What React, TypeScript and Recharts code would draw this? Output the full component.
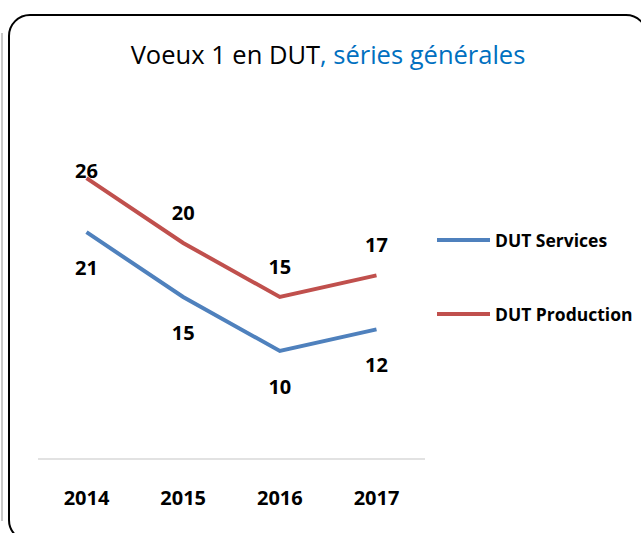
import React from 'react';
import { LineChart, Line, XAxis, YAxis, LabelList } from 'recharts';

const years = ['2014', '2015', '2016', '2017'];
const services = [21, 15, 10, 12];
const production = [26, 20, 15, 17];

const seriesNames = ['DUT Services', 'DUT Production'];
const seriesColors = ['#4F81BD', '#C0504D'];

const data = years.map((year, i) => ({
  year,
  services: services[i],
  production: production[i],
}));

const FONT = '"Open Sans", sans-serif';

const labelAbove = (props: any) => {
  const { x, y, value } = props;
  return (
    <text x={x} y={Math.max(y - 31, 170)} textAnchor="middle" dominantBaseline="central"
      fontFamily={FONT} fontWeight={700} fontSize={20} fill="#000">
      {value}
    </text>
  );
};

const labelBelow = (props: any) => {
  const { x, y, value } = props;
  return (
    <text x={x} y={y + 35} textAnchor="middle" dominantBaseline="central"
      fontFamily={FONT} fontWeight={700} fontSize={20} fill="#000">
      {value}
    </text>
  );
};

export default function App() {
  return (
    <div style={{ position: 'absolute', left: 0, top: 0, width: 641, height: 533, overflow: 'hidden', background: '#fff' }}>
      <div style={{ position: 'absolute', left: 1, top: 33, width: 2, height: 488, background: '#c8c8c8' }} />
      <div style={{ position: 'absolute', left: 8, top: 14, width: 640, height: 528, border: '2px solid #000', borderRadius: 22, boxSizing: 'border-box' }} />
      <div style={{ position: 'absolute', left: 0, top: 37, width: 656, textAlign: 'center', fontFamily: FONT, fontSize: 25.5, color: '#000', whiteSpace: 'nowrap' }}>
        Voeux 1 en DUT<span style={{ color: '#0070C0' }}>, séries générales</span>
      </div>
      <div style={{ position: 'absolute', left: 0, top: 0 }}>
        <LineChart width={641} height={533} data={data} margin={{ top: 135, right: 216, bottom: 14, left: 38 }}>
          <XAxis dataKey="year" height={60} axisLine={{ stroke: '#d9d9d9', strokeWidth: 1.5 }} tickLine={false}
            tickSize={0} tickMargin={32} padding={{ left: 48.5, right: 48.5 }}
            tick={{ fontFamily: FONT, fontWeight: 700, fontSize: 20, fill: '#000' }} />
          <YAxis hide domain={[0, 30]} />
          <Line dataKey="services" name={seriesNames[0]} stroke={seriesColors[0]} strokeWidth={4} dot={false} isAnimationActive={false}>
            <LabelList dataKey="services" content={labelBelow} />
          </Line>
          <Line dataKey="production" name={seriesNames[1]} stroke={seriesColors[1]} strokeWidth={4} dot={false} isAnimationActive={false}>
            <LabelList dataKey="production" content={labelAbove} />
          </Line>
        </LineChart>
      </div>
      <div style={{ position: 'absolute', left: 437, top: 203 }}>
        {seriesNames.map((name, i) => (
          <div key={name} style={{ display: 'flex', alignItems: 'center', height: 74 }}>
            <div style={{ width: 53, height: 4, background: seriesColors[i], marginRight: 5 }} />
            <span style={{ fontFamily: FONT, fontWeight: 700, fontSize: 17.5, color: '#000', whiteSpace: 'nowrap' }}>{name}</span>
          </div>
        ))}
      </div>
    </div>
  );
}
